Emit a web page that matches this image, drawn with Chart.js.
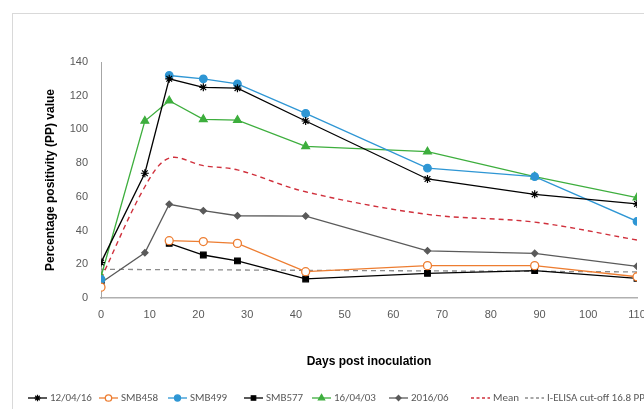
<!DOCTYPE html>
<html>
<head>
<meta charset="utf-8">
<script src="https://cdn.jsdelivr.net/npm/chart.js@4.4.1/dist/chart.umd.min.js"></script>
<style>
  html, body { margin: 0; padding: 0; background: #fff; }
  #wrap { position: relative; width: 644px; height: 409px; overflow: hidden; background: #fff; }
  #frame { position: absolute; left: 12px; top: 13px; width: 700px; height: 500px; border: 1px solid #d9d9d9; box-sizing: border-box; }
  canvas { position: absolute; left: 0; top: 0; }
</style>
</head>
<body>
<div id="wrap">
  <div id="frame"></div>
  <canvas id="c" width="700" height="409"></canvas>
</div>
<script>
// ---- data ----
const days = [0, 9, 14, 21, 28, 42, 67, 89, 110];
const s120416 = [21, 74, 130, 125, 124.5, 105, 70.6, 61.5, 55.8];
const smb458  = [6.4, null, 34, 33.5, 32.4, 15.6, 19.2, 19.2, 12.6];
const smb499  = [11, null, 132, 130, 127, 109.5, 77, 72, 45.5];
const smb577  = [9, null, 32.4, 25.5, 22, 11.3, 14.6, 16.2, 11.7];
const s160403 = [12.6, 105, 117, 106, 105.5, 90, 86.8, 72, 59.5];
const s201606 = [9, 26.8, 55.6, 51.8, 48.8, 48.6, 28, 26.5, 18.8];
const meanVals = [11.5, 66, 83, 78.5, 76, 63, 49.6, 45, 34.4];
const cutoffDays = [0, 110];
const cutoffVals = [17, 15.5];
const seriesNames = ['12/04/16', 'SMB458', 'SMB499', 'SMB577', '16/04/03', '2016/06', 'Mean', 'I-ELISA cut-off 16.8 PP'];
const xTicks = [0, 10, 20, 30, 40, 50, 60, 70, 80, 90, 100, 110];
const yTicks = [0, 20, 40, 60, 80, 100, 120, 140];

const pts = (xs, ys) => xs.map((x, i) => ({x: x, y: ys[i]}));

const FONT = "'Liberation Sans', 'DejaVu Sans', sans-serif";
const LEGFONT = "Carlito, 'Liberation Sans Narrow', 'Liberation Sans', sans-serif";
const TXT = '#595959';

function ds(label, values, color, style, extra) {
  return Object.assign({
    label: label,
    data: pts(days, values),
    borderColor: color,
    backgroundColor: color,
    pointBorderColor: color,
    pointBackgroundColor: color,
    borderWidth: 1.3,
    pointStyle: style,
    pointRadius: 3.5,
    pointBorderWidth: 1.2,
    spanGaps: false,
    tension: 0
  }, extra || {});
}

const datasets = [
  ds(seriesNames[0], s120416, '#000000', 'star', {pointRadius: 4, pointBorderWidth: 1.2}),
  ds(seriesNames[1], smb458, '#ED7D31', 'circle', {pointBackgroundColor: '#ffffff', pointRadius: 4, pointBorderWidth: 1.3}),
  ds(seriesNames[2], smb499, '#2E96D4', 'circle', {pointRadius: 3.8}),
  ds(seriesNames[3], smb577, '#000000', 'rect', {pointRadius: 4}),
  ds(seriesNames[4], s160403, '#3DAE3D', 'triangle', {pointRadius: 4.5}),
  ds(seriesNames[5], s201606, '#5a5a5a', 'rectRot', {pointRadius: 3.2}),
  ds(seriesNames[6], meanVals, '#D0303C', false, {pointRadius: 0, borderDash: [5, 4], borderWidth: 1.4, tension: 0.35}),
  {
    label: seriesNames[7],
    data: pts(cutoffDays, cutoffVals),
    borderColor: '#8c8c8c',
    borderWidth: 1.3,
    borderDash: [5, 4],
    pointRadius: 0,
    tension: 0
  }
];

const legendTextX = [50, 121, 190, 266, 334, 411, 493, 547];
const legendY = 398;

const legendPlugin = {
  id: 'xlLegend',
  afterDraw(chart) {
    const ctx = chart.ctx;
    ctx.save();
    ctx.font = '11px ' + LEGFONT;
    ctx.textBaseline = 'middle';
    chart.data.datasets.forEach((d, i) => {
      const tx = legendTextX[i];
      const x0 = tx - 22, x1 = tx - 3;
      ctx.beginPath();
      ctx.strokeStyle = d.borderColor;
      ctx.lineWidth = 1.3;
      ctx.setLineDash(d.borderDash ? [3, 2.5] : []);
      ctx.moveTo(x0, legendY);
      ctx.lineTo(x1, legendY);
      ctx.stroke();
      ctx.setLineDash([]);
      if (d.pointStyle) {
        ctx.fillStyle = d.pointBackgroundColor;
        ctx.strokeStyle = d.pointBorderColor;
        ctx.lineWidth = d.pointBorderWidth;
        Chart.helpers.drawPoint(ctx, {pointStyle: d.pointStyle, radius: d.pointRadius * 0.8, borderWidth: d.pointBorderWidth}, (x0 + x1) / 2, legendY);
      }
      ctx.fillStyle = TXT;
      ctx.textAlign = 'left';
      ctx.fillText(d.label, tx, legendY + 0.5);
    });
    ctx.restore();
  }
};

new Chart(document.getElementById('c'), {
  type: 'line',
  data: { datasets: datasets },
  plugins: [legendPlugin],
  options: {
    responsive: false,
    animation: false,
    devicePixelRatio: 1,
    layout: { padding: { left: 13, top: 62, right: 63, bottom: 0 } },
    plugins: { legend: { display: false }, tooltip: { enabled: false } },
    scales: {
      x: {
        type: 'linear',
        min: 0, max: 110,
        afterBuildTicks(scale) { scale.ticks = xTicks.map(v => ({value: v})); },
        afterFit(scale) { scale.height = 409 - 298; },
        grid: { display: false, drawTicks: false },
        border: { display: true, color: '#b0b0b0', width: 1.5 },
        ticks: { color: TXT, font: { family: FONT, size: 11 }, padding: 10, maxRotation: 0, autoSkip: false },
        title: { display: true, text: 'Days post inoculation', color: '#000', font: { family: FONT, size: 12, weight: 'bold' }, padding: { top: 0, bottom: 40 } }
      },
      y: {
        min: 0, max: 140,
        afterBuildTicks(scale) { scale.ticks = yTicks.map(v => ({value: v})); },
        afterFit(scale) { scale.width = 88; },
        grid: { display: false, drawTicks: false },
        border: { display: true, color: '#a6a6a6', width: 1 },
        ticks: { color: TXT, font: { family: FONT, size: 11 }, padding: 13 },
        title: { display: true, text: 'Percentage positivity (PP) value', color: '#000', font: { family: FONT, size: 12, weight: 'bold' }, padding: { top: 30, bottom: 0 } }
      }
    }
  }
});
</script>
</body>
</html>
